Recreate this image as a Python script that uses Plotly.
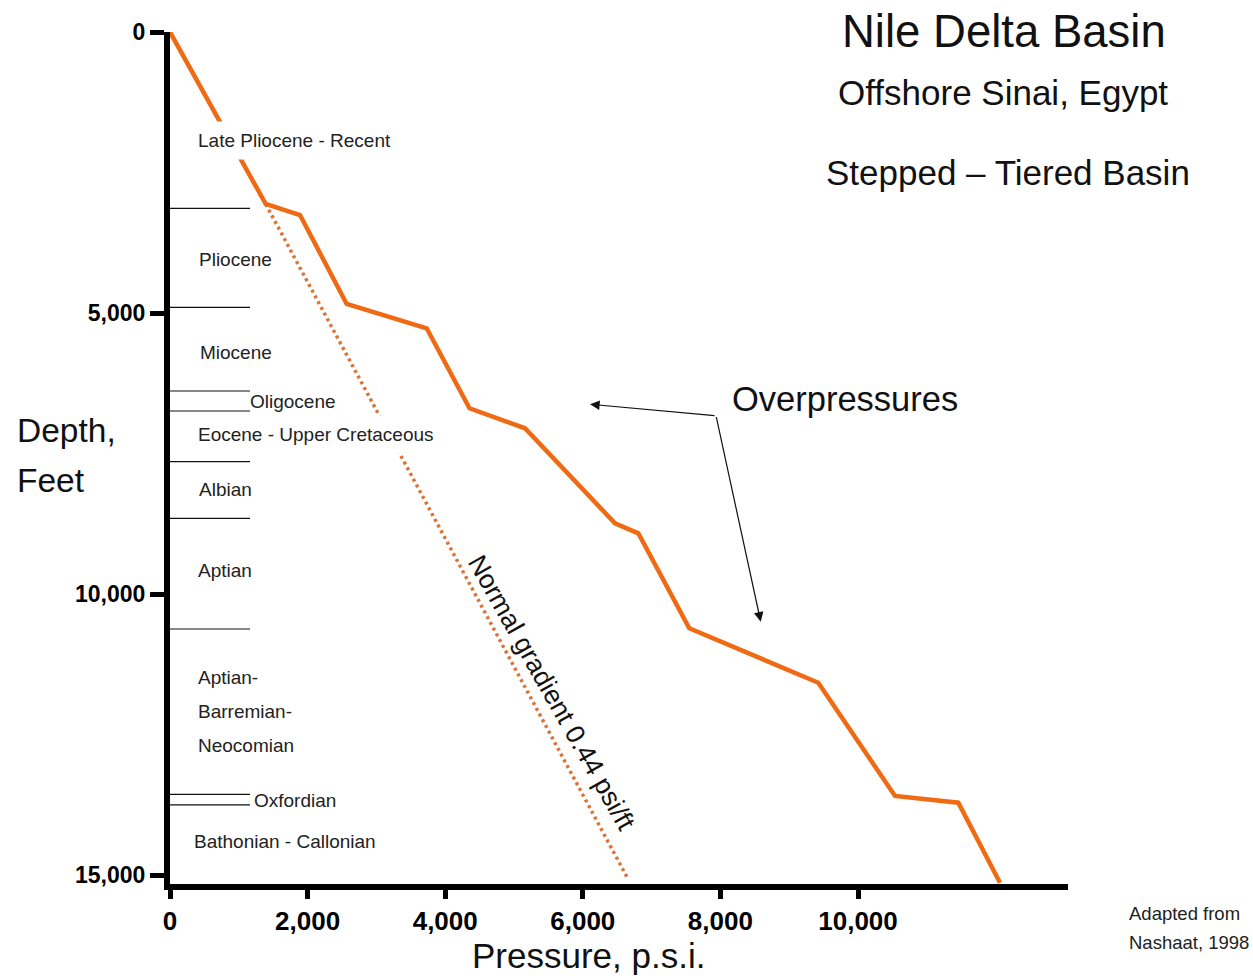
import plotly.graph_objects as go

# ---------------- data ----------------
pressure_psi = [0, 1391, 1890, 2568, 3731, 4353, 5160, 6468, 6807, 7548, 9423, 10538, 11458, 12064]
depth_ft = [0, 3059, 3255, 4838, 5270, 6693, 7049, 8739, 8917, 10607, 11574, 13589, 13709, 15132]

normal_psi = [1391, 6642]
normal_depth = [3059, 15030]

boundary_depths = [3136, 4897, 6386, 6741, 7643, 8650, 10619, 13559, 13749]
boundary_len_psi = 1163

formation_labels = ["Late Pliocene - Recent", "Pliocene", "Miocene", "Oligocene",
                    "Eocene - Upper Cretaceous", "Albian", "Aptian", "Aptian-",
                    "Barremian-", "Neocomian", "Oxfordian", "Bathonian - Callonian"]
formation_label_psi = [407, 407, 421, 1148, 407, 407, 392, 392, 392, 392, 1206, 330]
formation_label_depth = [1921, 4038, 5704, 6576, 7168, 8129, 9570, 11473, 12090, 12700, 13661, 14403]
formation_label_bg = [True, False, False, False, True, False, False, False, False, False, False, False]

x_ticks = [0, 2000, 4000, 6000, 8000, 10000]
y_ticks = [0, 5000, 10000, 15000]

# ---------------- layout geometry ----------------
W, H = 1253, 976
L, R, T, B = 170, 1068, 32, 884
PX_PER_PSI = 0.0688
PX_PER_FT = 0.05622
x_max = (R - L) / PX_PER_PSI
y_max = (B - T) / PX_PER_FT

def paper_x(px):
    return (px - L) / (R - L)

def paper_y(py):
    return (B - py) / (B - T)

FONT = "Liberation Sans, Arial, Helvetica, sans-serif"
ORANGE = "#F06A14"
DOT_ORANGE = "#DB7338"

fig = go.Figure()

# formation boundary ticks
bx, by = [], []
for d in boundary_depths:
    bx += [0, boundary_len_psi, None]
    by += [d, d, None]
fig.add_trace(go.Scatter(x=bx, y=by, mode="lines",
                         line=dict(color="#111111", width=1.2),
                         hoverinfo="skip", showlegend=False))

# normal gradient (dotted)
fig.add_trace(go.Scatter(x=normal_psi, y=normal_depth, mode="lines",
                         line=dict(color=DOT_ORANGE, width=3.5, dash="3px,3.5px"),
                         hoverinfo="skip", showlegend=False))

# measured pressure profile
fig.add_trace(go.Scatter(x=pressure_psi, y=depth_ft, mode="lines",
                         line=dict(color=ORANGE, width=4.5),
                         hoverinfo="skip", showlegend=False))

annotations = []
PAD = 8
LABEL_SIZE = 19
for txt, xp, yd, bg in zip(formation_labels, formation_label_psi,
                           formation_label_depth, formation_label_bg):
    if bg:
        annotations.append(dict(x=xp - (PAD + 1) / PX_PER_PSI, y=yd, xref="x", yref="y",
                                text=txt, showarrow=False, xanchor="left", yanchor="middle",
                                font=dict(family=FONT, size=LABEL_SIZE, color="#222222"),
                                bgcolor="white", borderpad=PAD))
    else:
        annotations.append(dict(x=xp, y=yd, xref="x", yref="y",
                                text=txt, showarrow=False, xanchor="left", yanchor="middle",
                                font=dict(family=FONT, size=LABEL_SIZE, color="#222222"),
                                borderpad=0))

# Normal gradient label (rotated)
annotations.append(dict(x=5552, y=11757, xref="x", yref="y",
                        text="Normal gradient 0.44 psi/ft", showarrow=False,
                        textangle=60.5, font=dict(family=FONT, size=26.5, color="#111111")))

# Overpressures label + arrows
annotations.append(dict(x=paper_x(730), y=paper_y(399), xref="paper", yref="paper",
                        text="Overpressures", showarrow=False, xanchor="left", yanchor="middle",
                        font=dict(family=FONT, size=34.5, color="#111111")))
arrow_tail = (7936, 6825)
arrow_heads = [(6105, 6622), (8586, 10489)]
for hx, hy in arrow_heads:
    annotations.append(dict(x=hx, y=hy, xref="x", yref="y",
                            ax=arrow_tail[0], ay=arrow_tail[1], axref="x", ayref="y",
                            text="", showarrow=True, arrowhead=2, arrowsize=1.6,
                            arrowwidth=1.2, arrowcolor="#111111"))

# titles
annotations.append(dict(x=paper_x(1004), y=paper_y(31), xref="paper", yref="paper",
                        text="Nile Delta Basin", showarrow=False, xanchor="center", yanchor="middle",
                        font=dict(family=FONT, size=45.5, color="#111111")))
annotations.append(dict(x=paper_x(1003), y=paper_y(93), xref="paper", yref="paper",
                        text="Offshore Sinai, Egypt", showarrow=False, xanchor="center", yanchor="middle",
                        font=dict(family=FONT, size=35, color="#111111")))
annotations.append(dict(x=paper_x(1008), y=paper_y(172), xref="paper", yref="paper",
                        text="Stepped \u2013 Tiered Basin", showarrow=False, xanchor="center", yanchor="middle",
                        font=dict(family=FONT, size=35, color="#111111")))

# axis titles
annotations.append(dict(x=paper_x(15), y=paper_y(430), xref="paper", yref="paper",
                        text="Depth,", showarrow=False, xanchor="left", yanchor="middle",
                        font=dict(family=FONT, size=33.5, color="#111111")))
annotations.append(dict(x=paper_x(15), y=paper_y(480), xref="paper", yref="paper",
                        text="Feet", showarrow=False, xanchor="left", yanchor="middle",
                        font=dict(family=FONT, size=33.5, color="#111111")))
annotations.append(dict(x=paper_x(588), y=paper_y(956), xref="paper", yref="paper",
                        text="Pressure, p.s.i.", showarrow=False, xanchor="center", yanchor="middle",
                        font=dict(family=FONT, size=35, color="#111111")))

# source note
annotations.append(dict(x=paper_x(1127), y=paper_y(913), xref="paper", yref="paper",
                        text="Adapted from", showarrow=False, xanchor="left", yanchor="middle",
                        font=dict(family=FONT, size=18.5, color="#222222")))
annotations.append(dict(x=paper_x(1127), y=paper_y(942), xref="paper", yref="paper",
                        text="Nashaat, 1998", showarrow=False, xanchor="left", yanchor="middle",
                        font=dict(family=FONT, size=18.5, color="#222222")))

fig.update_layout(
    width=W, height=H,
    margin=dict(l=L, r=W - R, t=T, b=H - B, pad=0),
    paper_bgcolor="white", plot_bgcolor="white",
    showlegend=False,
    annotations=annotations,
    xaxis=dict(range=[0, x_max], showgrid=False, zeroline=False,
               showline=True, linecolor="black", linewidth=6,
               ticks="outside", ticklen=9, tickwidth=5, tickcolor="black",
               tickvals=x_ticks, tickformat=",d",
               tickfont=dict(family=FONT, size=26, color="black", weight="bold"),
               fixedrange=True),
    yaxis=dict(range=[y_max, 0], showgrid=False, zeroline=False,
               showline=True, linecolor="black", linewidth=6,
               ticks="outside", ticklen=14, tickwidth=5, tickcolor="black",
               tickvals=y_ticks, tickformat=",d",
               tickfont=dict(family=FONT, size=23, color="black", weight="bold"),
               fixedrange=True),
)

fig.write_html("out.html")
